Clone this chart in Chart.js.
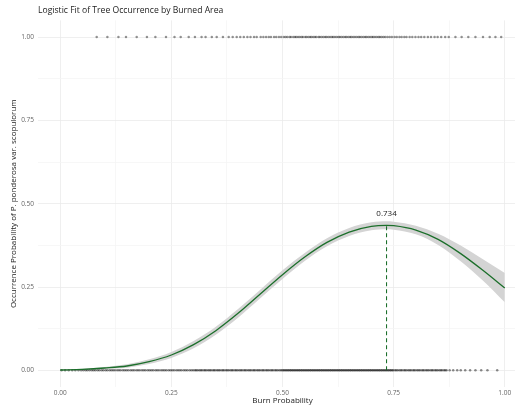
<!DOCTYPE html>
<html>
<head>
<meta charset="utf-8">
<script src="https://cdn.jsdelivr.net/npm/chart.js@4"></script>
<style>
  html, body { margin: 0; padding: 0; overflow: hidden; background: #fff; }
  #wrap { width: 540px; height: 407px; }
</style>
</head>
<body>
<div id="wrap"><canvas id="chart" width="540" height="407"></canvas></div>
<script>
// ---- data ----
const fitX = [0, 0.05, 0.10, 0.15, 0.20, 0.25, 0.30, 0.35, 0.40, 0.45, 0.50, 0.55, 0.60, 0.65, 0.70, 0.734, 0.75, 0.80, 0.85, 0.90, 0.95, 1.00];
const fitValues = [0.001, 0.003, 0.007, 0.013, 0.026, 0.046, 0.077, 0.119, 0.171, 0.229, 0.287, 0.340, 0.384, 0.415, 0.432, 0.435, 0.434, 0.421, 0.393, 0.351, 0.301, 0.247];
const upperValues = [0.002, 0.005, 0.010, 0.018, 0.033, 0.055, 0.088, 0.131, 0.184, 0.242, 0.300, 0.352, 0.396, 0.427, 0.444, 0.447, 0.446, 0.434, 0.410, 0.375, 0.334, 0.292];
const lowerValues = [0.000, 0.001, 0.004, 0.008, 0.019, 0.037, 0.066, 0.107, 0.158, 0.216, 0.274, 0.328, 0.372, 0.403, 0.420, 0.423, 0.422, 0.408, 0.376, 0.328, 0.270, 0.204];

const optimumX = 0.734;
const optimumY = 0.435;

// burn probability of plots where the tree is present (y = 1)
const presentX = [0.082, 0.106, 0.131, 0.148, 0.172, 0.195, 0.214, 0.238, 0.257, 0.271, 0.289, 0.303, 0.318, 0.327, 0.341, 0.352, 0.366, 0.379,
  0.388, 0.397, 0.405, 0.413, 0.421, 0.428, 0.436, 0.442, 0.451, 0.457, 0.463, 0.469, 0.474, 0.481, 0.486, 0.492, 0.497,
  0.503, 0.507, 0.511, 0.516, 0.519, 0.524, 0.528, 0.531, 0.535, 0.539, 0.543, 0.546, 0.551, 0.554, 0.558, 0.562, 0.565, 0.569,
  0.573, 0.576, 0.581, 0.584, 0.588, 0.592, 0.596, 0.599, 0.603, 0.607, 0.611, 0.614, 0.618, 0.622, 0.626, 0.629, 0.633, 0.637,
  0.641, 0.644, 0.648, 0.652, 0.655, 0.659, 0.663, 0.667, 0.671, 0.674, 0.678, 0.682, 0.686, 0.689, 0.693, 0.697, 0.701, 0.704,
  0.708, 0.712, 0.716, 0.719, 0.723, 0.727, 0.731, 0.736, 0.741, 0.746, 0.752, 0.757, 0.763, 0.768, 0.774, 0.779,
  0.786, 0.792, 0.799, 0.806, 0.812, 0.819, 0.827, 0.834, 0.842, 0.849, 0.857, 0.866, 0.874,
  0.889, 0.903, 0.918, 0.934, 0.951, 0.966, 0.979, 0.992];

// burn probability of plots where the tree is absent (y = 0)
const absentX = [0.003, 0.011, 0.019, 0.027, 0.034, 0.041, 0.047, 0.052, 0.057, 0.061, 0.066, 0.071, 0.075, 0.079, 0.084, 0.088,
  0.093, 0.097, 0.102, 0.106, 0.111, 0.115, 0.119, 0.123, 0.128, 0.132, 0.136, 0.141, 0.145, 0.149, 0.153, 0.158, 0.162, 0.166,
  0.171, 0.175, 0.179, 0.184, 0.188, 0.192, 0.197, 0.201, 0.205, 0.209, 0.214, 0.218, 0.222, 0.227, 0.231, 0.235, 0.239, 0.244,
  0.248, 0.252, 0.256, 0.261, 0.265, 0.269, 0.273, 0.278, 0.282, 0.286, 0.291, 0.295, 0.299, 0.303, 0.306, 0.309, 0.313, 0.316,
  0.319, 0.323, 0.326, 0.329, 0.333, 0.336, 0.339, 0.343, 0.346, 0.349, 0.353, 0.356, 0.359, 0.363, 0.366, 0.369, 0.373, 0.376,
  0.379, 0.383, 0.386, 0.389, 0.393, 0.396, 0.399, 0.403, 0.406, 0.409, 0.413, 0.416, 0.419, 0.423, 0.426, 0.429, 0.433, 0.436,
  0.439, 0.443, 0.446, 0.449, 0.453, 0.456, 0.459, 0.463, 0.466, 0.469, 0.473, 0.476, 0.479, 0.483, 0.486, 0.489, 0.493, 0.496, 0.499,
  0.502, 0.504, 0.507, 0.509, 0.512, 0.514, 0.517, 0.519, 0.522, 0.524, 0.527, 0.529, 0.532, 0.534, 0.537, 0.539, 0.542, 0.544,
  0.547, 0.549, 0.552, 0.554, 0.557, 0.559, 0.562, 0.564, 0.567, 0.569, 0.572, 0.574, 0.577, 0.579, 0.582, 0.584, 0.587, 0.589,
  0.592, 0.594, 0.597, 0.599, 0.602, 0.604, 0.607, 0.609, 0.612, 0.614, 0.617, 0.619, 0.622, 0.624, 0.627, 0.629, 0.632, 0.634,
  0.637, 0.639, 0.642, 0.644, 0.647, 0.649, 0.652, 0.654, 0.657, 0.659, 0.662, 0.664, 0.667, 0.669, 0.672, 0.674, 0.677, 0.679,
  0.682, 0.684, 0.687, 0.689, 0.692, 0.694, 0.697, 0.699, 0.702, 0.704, 0.707, 0.709, 0.712, 0.714, 0.717, 0.719, 0.722, 0.724,
  0.727, 0.729, 0.732, 0.734, 0.737, 0.739, 0.742, 0.744, 0.747, 0.749,
  0.753, 0.756, 0.759, 0.763, 0.766, 0.769, 0.773, 0.776, 0.779, 0.783, 0.786, 0.789, 0.793, 0.796, 0.799, 0.803, 0.806, 0.809,
  0.813, 0.816, 0.819, 0.823, 0.826, 0.829, 0.833, 0.836, 0.839, 0.843, 0.846, 0.849, 0.853, 0.856, 0.859, 0.863, 0.866, 0.869,
  0.876, 0.884, 0.893, 0.901, 0.911, 0.922, 0.934, 0.947, 0.961, 0.983];

const tickValues = [0, 0.125, 0.25, 0.375, 0.5, 0.625, 0.75, 0.875, 1];
const labeledTicks = [0, 0.25, 0.5, 0.75, 1];

// ---- helpers ----
const FONT = '"Open Sans", "DejaVu Sans", sans-serif';
const GREEN = '#1c6f2b';
const toPoints = (xs, ys) => xs.map((x, i) => ({ x: x, y: ys[i] }));
const rug = (xs, yVal) => xs.map(x => ({ x: x, y: yVal }));
const isMajor = v => labeledTicks.some(t => Math.abs(t - v) < 1e-9);

const textPlugin = {
  id: 'textPlugin',
  afterDatasetsDraw(chart) {
    const { ctx, chartArea, scales: { x, y } } = chart;
    ctx.save();
    // peak label
    ctx.font = '8px ' + FONT;
    ctx.fillStyle = '#222';
    ctx.textAlign = 'center';
    ctx.textBaseline = 'bottom';
    ctx.fillText(optimumX.toFixed(3), x.getPixelForValue(optimumX), y.getPixelForValue(optimumY) - 8);
    // title
    ctx.font = '8.6px ' + FONT;
    ctx.textAlign = 'left';
    ctx.textBaseline = 'middle';
    ctx.fillText('Logistic Fit of Tree Occurrence by Burned Area', chartArea.left, 11);
    ctx.restore();
  }
};

new Chart(document.getElementById('chart'), {
  type: 'line',
  data: {
    datasets: [
      {
        label: 'fit',
        data: toPoints(fitX, fitValues),
        borderColor: GREEN,
        borderWidth: 1.3,
        pointRadius: 0,
        cubicInterpolationMode: 'monotone',
        fill: false,
        order: 0
      },
      {
        label: 'optimum',
        data: [{ x: optimumX, y: 0 }, { x: optimumX, y: optimumY }],
        borderColor: GREEN,
        borderWidth: 1.1,
        borderDash: [4, 3],
        pointRadius: 0,
        fill: false,
        order: 1
      },
      {
        type: 'scatter',
        label: 'present',
        data: rug(presentX, 1),
        backgroundColor: 'rgba(0,0,0,0.42)',
        borderWidth: 0,
        pointRadius: 1.25,
        order: 2
      },
      {
        type: 'scatter',
        label: 'absent',
        data: rug(absentX, 0),
        backgroundColor: 'rgba(0,0,0,0.45)',
        borderWidth: 0,
        pointRadius: 1.25,
        order: 2
      },
      {
        label: 'lower',
        data: toPoints(fitX, lowerValues),
        borderWidth: 0,
        borderColor: 'rgba(0,0,0,0)',
        pointRadius: 0,
        cubicInterpolationMode: 'monotone',
        fill: false,
        order: 4
      },
      {
        label: 'upper',
        data: toPoints(fitX, upperValues),
        borderWidth: 0,
        borderColor: 'rgba(0,0,0,0)',
        backgroundColor: '#d4d4d4',
        pointRadius: 0,
        cubicInterpolationMode: 'monotone',
        fill: '-1',
        order: 3
      }
    ]
  },
  options: {
    responsive: false,
    animation: false,
    layout: { padding: { top: 20.4, right: 13, left: 0, bottom: 0 } },
    plugins: {
      legend: { display: false },
      tooltip: { enabled: false },
      title: { display: false }
    },
    scales: {
      x: {
        type: 'linear',
        min: -0.05,
        max: 1.05,
        afterBuildTicks: scale => { scale.ticks = tickValues.map(v => ({ value: v })); },
        afterFit: scale => { scale.height = 20; },
        border: { display: false },
        grid: {
          drawTicks: false,
          color: c => isMajor(c.tick.value) ? '#ebebeb' : '#f5f5f5',
          lineWidth: 0.8
        },
        ticks: {
          autoSkip: false,
          maxRotation: 0,
          padding: 2,
          color: '#666',
          font: { family: FONT, size: 6.5 },
          callback: v => isMajor(v) ? v.toFixed(2) : ''
        },
        title: {
          display: true,
          text: 'Burn Probability',
          color: '#222',
          font: { family: FONT, size: 8 },
          padding: { top: 0, bottom: 1 }
        }
      },
      y: {
        type: 'linear',
        min: -0.05,
        max: 1.05,
        afterBuildTicks: scale => { scale.ticks = tickValues.map(v => ({ value: v })); },
        afterFit: scale => { scale.width = 38; },
        border: { display: false },
        grid: {
          drawTicks: false,
          color: c => isMajor(c.tick.value) ? '#ebebeb' : '#f5f5f5',
          lineWidth: 0.8
        },
        ticks: {
          autoSkip: false,
          padding: 4,
          color: '#666',
          font: { family: FONT, size: 6.5 },
          callback: v => isMajor(v) ? v.toFixed(2) : ''
        },
        title: {
          display: true,
          text: 'Occurrence Probability of P. ponderosa var. scopulorum',
          color: '#222',
          font: { family: FONT, size: 8 },
          padding: { top: 9, bottom: 0 }
        }
      }
    }
  },
  plugins: [textPlugin]
});
</script>
</body>
</html>
